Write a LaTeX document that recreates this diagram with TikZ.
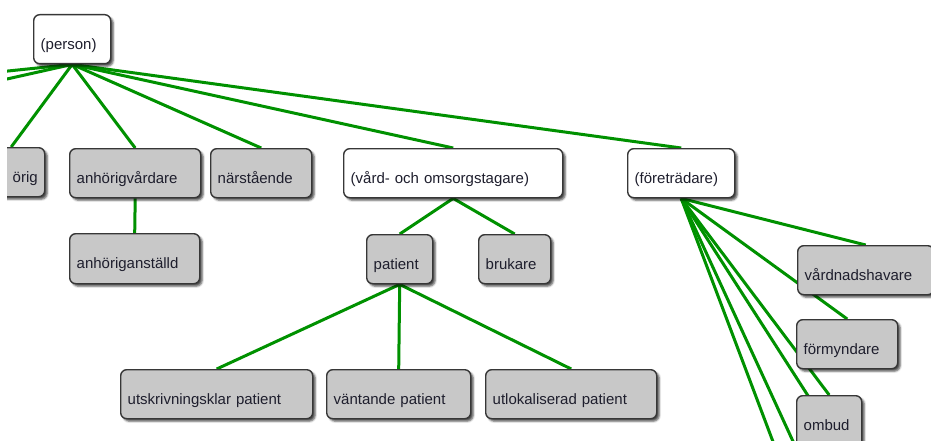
\documentclass[tikz,border=0pt]{standalone}
\usepackage{fontspec}
\setmainfont{Liberation Sans}
\usetikzlibrary{shadows.blur,backgrounds}
\definecolor{edgegreen}{RGB}{0,145,0}
\definecolor{boxgray}{RGB}{200,200,200}
\definecolor{boxline}{RGB}{55,55,55}
\definecolor{txt}{RGB}{30,30,45}
\tikzset{
 base/.style={draw=boxline, line width=1.4pt, rounded corners=6pt, anchor=north west,
   inner xsep=7pt, inner ysep=0pt, text height=35pt, text depth=14pt, align=left,
   font=\fontsize{15}{17}\selectfont, text=txt,
   blur shadow={shadow xshift=2.5pt, shadow yshift=-2.5pt, shadow blur radius=2pt, shadow opacity=70}},
 graybox/.style={base, fill=boxgray},
 whitebox/.style={base, fill=white},
 link/.style={draw=edgegreen, line width=3pt}
}
\begin{document}
\begin{tikzpicture}[x=1pt,y=-1pt]
\useasboundingbox (0,0) rectangle (931,441);
\clip (7,0) rectangle (931,441);
\node[whitebox, text width=63pt] (person) at (33,14) {(person)};
\node[graybox, text width=53pt, align=right] (anhorig) at (-23,147) {örig};
\node[graybox, text width=117pt] (anhv) at (69,148) {anhörigvårdare};
\node[graybox, text width=87pt] (narst) at (210,148) {närstående};
\node[whitebox, text width=205pt] (vard) at (343,148) {(vård- och omsorgstagare)};
\node[whitebox, text width=93pt] (foretr) at (627,148) {(företrädare)};
\node[graybox, text width=116pt, text depth=15pt] (anhanst) at (69,233) {anhöriganställd};
\node[graybox, text width=52pt] (patient) at (366,234) {patient};
\node[graybox, text width=58pt] (brukare) at (478,234) {brukare};
\node[graybox, text width=178pt] (utskr) at (120,369) {utskrivningsklar patient};
\node[graybox, text width=130pt] (vant) at (326,369) {väntande patient};
\node[graybox, text width=157pt] (utlok) at (485,369) {utlokaliserad patient};
\node[graybox, text width=122pt] (vardn) at (797,245) {vårdnadshavare};
\node[graybox, text width=87pt] (form) at (796,319) {förmyndare};
\node[graybox, text width=51pt, text depth=25pt] (ombud) at (796,395) {ombud};
\coordinate (offA) at (-60,78);
\coordinate (offB) at (-60,94);
\coordinate (offC) at (795,500);
\coordinate (offD) at (820,500);
\coordinate (offE) at (875,500);
\begin{scope}[on background layer]
\clip (7,0) rectangle (931,441);
\draw[link] (person.south) -- (offA);
\draw[link] (person.south) -- (offB);
\draw[link] (person.south) -- (anhorig.north);
\draw[link] (person.south) -- (anhv.north);
\draw[link] (person.south) -- (narst.north);
\draw[link] (person.south) -- (vard.north);
\draw[link] (person.south) -- (foretr.north);
\draw[link] (anhv.south) -- (anhanst.north);
\draw[link] (vard.south) -- (patient.north);
\draw[link] (vard.south) -- (brukare.north);
\draw[link] (patient.south) -- (utskr.north);
\draw[link] (patient.south) -- (vant.north);
\draw[link] (patient.south) -- (utlok.north);
\draw[link] (foretr.south) -- (vardn.north);
\draw[link] (foretr.south) -- (form.north);
\draw[link] (foretr.south) -- (ombud.north);
\draw[link] (foretr.south) -- (offC);
\draw[link] (foretr.south) -- (offD);
\draw[link] (foretr.south) -- (offE);
\end{scope}
\end{tikzpicture}
\end{document}
